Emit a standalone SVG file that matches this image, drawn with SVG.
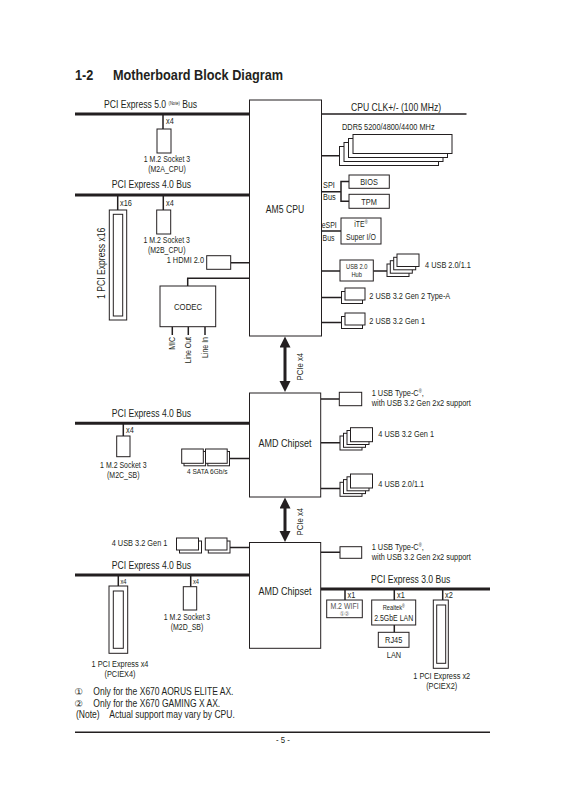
<svg xmlns="http://www.w3.org/2000/svg" width="565" height="800" viewBox="0 0 565 800">
<defs>
<style>
text{font-family:"Liberation Sans",Arial,"DejaVu Sans",sans-serif;fill:#231f20}
.title{font-weight:bold;font-size:15.5px}
.b{fill:#fff;stroke:#231f20;stroke-width:1}
.bus{stroke:#231f20;stroke-width:3;fill:none}
.c{stroke:#231f20;stroke-width:1.5;fill:none}
.ar{stroke:#231f20;stroke-width:3;fill:none}
.f11{font-size:11px}
.f105{font-size:10.5px}
.f104{font-size:10.4px}
.f95{font-size:9.5px}
.f9{font-size:9px}
.f85{font-size:8.5px}
.f8{font-size:8px}
.f7{font-size:7px}
.m{text-anchor:middle}
.e{text-anchor:end}
.g{fill:#555}
.cd{font-family:"DejaVu Sans",sans-serif;font-size:9.5px}
</style>
<marker id="ah" markerUnits="userSpaceOnUse" markerWidth="12" markerHeight="12" refX="6" refY="5.5" orient="auto-start-reverse">
<path d="M0,0 L11,5.5 L0,11 z" fill="#231f20"/>
</marker>
</defs>
<rect width="565" height="800" fill="#fff"/>

<g id="title">
<text transform="translate(75 80) scale(.82 1)" class="title">1-2</text>
<text transform="translate(113 80) scale(.82 1)" class="title">Motherboard Block Diagram</text>
</g>

<g id="connectors">
<line class="bus" x1="75" y1="114" x2="249.5" y2="114"/>
<line class="bus" x1="75" y1="195" x2="249.5" y2="195"/>
<line class="bus" x1="75" y1="423.3" x2="249.5" y2="423.3"/>
<line class="bus" x1="75" y1="575" x2="249.5" y2="575"/>
<line class="bus" x1="320.7" y1="589" x2="490" y2="589"/>
<path class="c" d="M163,114V129M117.7,195V210M163.3,195V210M230.7,262.7H249.5M187.7,286V278.3H249.5M172.3,326.7V335M188.3,326.7V335M205,326.7V335"/>
<path class="c" d="M321.5,114H466.5M321.5,155.7H339.5M321.5,191.7H341M349,181.5H341V201.3H349M321.5,231H341M321.5,271H340M373.3,271H387M321.5,297.5H341.5M321.5,322.5H341.5"/>
<path class="c" d="M123.3,423.3V436M229.5,458.5H249.5M320.7,399H339.3M320.7,442.7H340M320.7,488.5H340"/>
<path class="c" d="M230,547.5H249.5M118.3,575V586M190.7,575V586.7M320.7,552.3H340M345,589V600M394.3,589V600M394.3,625V632.3M442.7,589V600"/>
<line class="ar" x1="285" y1="341.5" x2="285" y2="387" marker-start="url(#ah)" marker-end="url(#ah)"/>
<line class="ar" x1="285" y1="502.5" x2="285" y2="537" marker-start="url(#ah)" marker-end="url(#ah)"/>
<text class="f95 m" transform="translate(302.7 366.7) rotate(-90) scale(.82 1)">PCIe x4</text>
<text class="f95 m" transform="translate(302.7 521.7) rotate(-90) scale(.82 1)">PCIe x4</text>
</g>

<g id="bus-labels">
<text transform="translate(104 108.3) scale(.82 1)" class="f105">PCI Express 5.0 <tspan font-size="5" dy="-3.5">(Note)</tspan><tspan dy="3.5"> Bus</tspan></text>
<text transform="translate(111.7 188.3) scale(.82 1)" class="f105">PCI Express 4.0 Bus</text>
<text transform="translate(111.7 416.7) scale(.82 1)" class="f105">PCI Express 4.0 Bus</text>
<text transform="translate(111.7 569.3) scale(.82 1)" class="f105">PCI Express 4.0 Bus</text>
<text transform="translate(371 583.3) scale(.82 1)" class="f105">PCI Express 3.0 Bus</text>
<text transform="translate(351 111) scale(.82 1)" class="f105">CPU CLK+/- (100 MHz)</text>
</g>

<g id="cpu">
<rect class="b" x="249.5" y="100" width="72" height="236"/>
<text transform="translate(285 213) scale(.82 1)" class="f105 m">AM5 CPU</text>
</g>

<g id="m2a">
<text transform="translate(166 124) scale(.82 1)" class="f9">x4</text>
<rect class="b" x="157" y="129" width="14" height="24"/>
<text transform="translate(167 162) scale(.82 1)" class="f85 m">1 M.2 Socket 3</text>
<text transform="translate(167 171.5) scale(.82 1)" class="f85 m">(M2A_CPU)</text>
</g>

<g id="pciex16">
<text transform="translate(120 206) scale(.82 1)" class="f9">x16</text>
<rect class="b" x="109.3" y="210" width="17.4" height="110"/>
<rect class="b" x="113.3" y="214.3" width="9.4" height="101.7"/>
<text class="f105 m" transform="translate(105.4 263.3) rotate(-90) scale(.82 1)">1 PCI Express x16</text>
</g>

<g id="m2b">
<text transform="translate(166 206) scale(.82 1)" class="f9">x4</text>
<rect class="b" x="156.7" y="210" width="14" height="24"/>
<text transform="translate(166.7 243.3) scale(.82 1)" class="f85 m">1 M.2 Socket 3</text>
<text transform="translate(166.7 252.5) scale(.82 1)" class="f85 m">(M2B_CPU)</text>
</g>

<g id="hdmi">
<text transform="translate(204 263.3) scale(.82 1)" class="f9 e">1 HDMI 2.0</text>
<rect class="b" x="206.7" y="255.7" width="24" height="13.6"/>
</g>

<g id="codec">
<rect class="b" x="160" y="286" width="55.7" height="40.7"/>
<text transform="translate(188 309.5) scale(.82 1)" class="f95 m">CODEC</text>
<text class="f85 e" transform="translate(175.3 337) rotate(-90) scale(.82 1)">MIC</text>
<text class="f85 e" transform="translate(191.3 337) rotate(-90) scale(.82 1)">Line Out</text>
<text class="f85 e" transform="translate(208 337) rotate(-90) scale(.82 1)">Line In</text>
</g>

<g id="ddr5">
<text transform="translate(342 130) scale(.82 1)" class="f9">DDR5 5200/4800/4400 MHz</text>
<rect class="b" x="339.5" y="146.5" width="99" height="19"/>
<rect class="b" x="344" y="142.5" width="99" height="19"/>
<rect class="b" x="348.5" y="138.5" width="99" height="19"/>
<rect class="b" x="353" y="134.5" width="99" height="19"/>
</g>

<g id="spi">
<text transform="translate(323 187.5) scale(.82 1)" class="f9">SPI</text>
<text transform="translate(323 200) scale(.82 1)" class="f9">Bus</text>
<rect class="b" x="349" y="175" width="40.3" height="13.3"/>
<text transform="translate(369 185.3) scale(.82 1)" class="f9 m">BIOS</text>
<rect class="b" x="349" y="194.3" width="40.3" height="14"/>
<text transform="translate(369 205) scale(.82 1)" class="f9 m">TPM</text>
</g>

<g id="superio">
<text transform="translate(321.7 227.7) scale(.82 1)" class="f85">eSPI</text>
<text transform="translate(322.5 240.7) scale(.82 1)" class="f85">Bus</text>
<rect class="b" x="341" y="218" width="40" height="26"/>
<text transform="translate(361 227) scale(.82 1)" class="f85 m">iTE<tspan font-size="5" dy="-3">®</tspan></text>
<text transform="translate(361 239.5) scale(.82 1)" class="f85 m">Super I/O</text>
</g>

<g id="usbhub">
<rect class="b" x="340" y="260" width="33.3" height="21"/>
<text transform="translate(356.7 268.5) scale(.82 1)" class="f7 m">USB 2.0</text>
<text transform="translate(356.7 277.3) scale(.82 1)" class="f7 m">Hub</text>
<rect class="b" x="387" y="264" width="22" height="12.5"/>
<rect class="b" x="390.3" y="260.7" width="22" height="12.5"/>
<rect class="b" x="393.7" y="257.3" width="22" height="12.5"/>
<rect class="b" x="397" y="254" width="22" height="12.5"/>
<text transform="translate(425 268.3) scale(.82 1)" class="f9">4 USB 2.0/1.1</text>
</g>

<g id="usb-gen2">
<rect class="b" x="341.5" y="291.5" width="21" height="12"/>
<rect class="b" x="345" y="288" width="20" height="12"/>
<text transform="translate(369.3 299.3) scale(.82 1)" class="f9">2 USB 3.2 Gen 2 Type-A</text>
</g>

<g id="usb-gen1">
<rect class="b" x="341.5" y="316.5" width="21" height="12"/>
<rect class="b" x="345" y="313" width="20" height="12"/>
<text transform="translate(369.3 324.3) scale(.82 1)" class="f9">2 USB 3.2 Gen 1</text>
</g>

<g id="chipset1">
<rect class="b" x="249.5" y="393" width="71.2" height="104"/>
<text transform="translate(285 446.7) scale(.82 1)" class="f11 m">AMD Chipset</text>
</g>

<g id="m2c">
<text transform="translate(126 433) scale(.82 1)" class="f9">x4</text>
<rect class="b" x="116.7" y="436" width="13.3" height="20.7"/>
<text transform="translate(123.3 468.3) scale(.82 1)" class="f85 m">1 M.2 Socket 3</text>
<text transform="translate(123.3 478) scale(.82 1)" class="f85 m">(M2C_SB)</text>
</g>

<g id="sata">
<rect class="b" x="184" y="451.5" width="21.6" height="14.3"/>
<rect class="b" x="181.7" y="449" width="21.6" height="14.3"/>
<rect class="b" x="207.8" y="451.5" width="21.7" height="14.3"/>
<rect class="b" x="205.5" y="449" width="21.7" height="14.3"/>
<text transform="translate(187 474) scale(.82 1)" class="f8">4 SATA 6Gb/s</text>
</g>

<g id="usbc1">
<rect class="b" x="339.3" y="392.3" width="22.4" height="13.4"/>
<text transform="translate(371.7 395.7) scale(.82 1)" class="f9">1 USB Type-C<tspan font-size="5" dy="-3">®</tspan><tspan dy="3">,</tspan></text>
<text transform="translate(371.7 405.7) scale(.82 1)" class="f9">with USB 3.2 Gen 2x2 support</text>
</g>

<g id="usb32-cs1">
<rect class="b" x="340" y="436" width="22" height="14"/>
<rect class="b" x="343.5" y="433.3" width="22" height="14"/>
<rect class="b" x="347" y="430.5" width="22" height="14"/>
<rect class="b" x="350.5" y="427.7" width="22" height="14"/>
<text transform="translate(378.3 437.3) scale(.82 1)" class="f9">4 USB 3.2 Gen 1</text>
</g>

<g id="usb20-cs1">
<rect class="b" x="340" y="482.3" width="22" height="14"/>
<rect class="b" x="343.5" y="479.6" width="22" height="14"/>
<rect class="b" x="347" y="476.8" width="22" height="14"/>
<rect class="b" x="350.5" y="474" width="22" height="14"/>
<text transform="translate(378.3 486.7) scale(.82 1)" class="f9">4 USB 2.0/1.1</text>
</g>

<g id="chipset2">
<rect class="b" x="249.5" y="542.5" width="71.2" height="105.8"/>
<text transform="translate(285 595) scale(.82 1)" class="f11 m">AMD Chipset</text>
</g>

<g id="usb32-left">
<text transform="translate(111.7 546) scale(.82 1)" class="f9">4 USB 3.2 Gen 1</text>
<rect class="b" x="179.5" y="541" width="22" height="12"/>
<rect class="b" x="176.5" y="538" width="22" height="12"/>
<rect class="b" x="208.3" y="541" width="21.7" height="12"/>
<rect class="b" x="205.3" y="538" width="21.7" height="12"/>
</g>

<g id="pciex4">
<text transform="translate(120.5 583.5) scale(.82 1)" class="f7">x4</text>
<rect class="b" x="109" y="586" width="18.7" height="67.3"/>
<rect class="b" x="113.3" y="591" width="10" height="57.3"/>
<text transform="translate(120 666.7) scale(.82 1)" class="f9 m">1 PCI Express x4</text>
<text transform="translate(120 676.7) scale(.82 1)" class="f9 m">(PCIEX4)</text>
</g>

<g id="m2d">
<text transform="translate(193 583.5) scale(.82 1)" class="f7">x4</text>
<rect class="b" x="183.3" y="586.7" width="13.4" height="23.3"/>
<text transform="translate(187 620) scale(.82 1)" class="f85 m">1 M.2 Socket 3</text>
<text transform="translate(187 630) scale(.82 1)" class="f85 m">(M2D_SB)</text>
</g>

<g id="usbc2">
<rect class="b" x="340" y="546.7" width="21.7" height="11.6"/>
<text transform="translate(371.7 549.5) scale(.82 1)" class="f9">1 USB Type-C<tspan font-size="5" dy="-3">®</tspan><tspan dy="3">,</tspan></text>
<text transform="translate(371.7 560) scale(.82 1)" class="f9">with USB 3.2 Gen 2x2 support</text>
</g>

<g id="wifi">
<text transform="translate(347.5 597.5) scale(.82 1)" class="f9">x1</text>
<rect class="b" x="326.7" y="600" width="35.6" height="17.7"/>
<text transform="translate(344.5 608.5) scale(.82 1)" class="f85 m g">M.2 WIFI</text>
<text transform="translate(344.5 616) scale(.82 1)" class="m g" font-family="DejaVu Sans, sans-serif" font-size="6.5">①②</text>
</g>

<g id="lan">
<text transform="translate(397 597.5) scale(.82 1)" class="f9">x1</text>
<rect class="b" x="371.7" y="600" width="44" height="25"/>
<text transform="translate(393.7 610) scale(.82 1)" class="f7 m">Realtek<tspan font-size="4.5" dy="-2.5">®</tspan></text>
<text transform="translate(393.7 620.7) scale(.82 1)" class="f85 m">2.5GbE LAN</text>
<rect class="b" x="378.3" y="632.3" width="30.7" height="15"/>
<text transform="translate(393.7 643) scale(.82 1)" class="f9 m">RJ45</text>
<text transform="translate(394 657.7) scale(.82 1)" class="f9 m">LAN</text>
</g>

<g id="pciex2">
<text transform="translate(445 597.5) scale(.82 1)" class="f9">x2</text>
<rect class="b" x="433.3" y="600" width="15" height="68.3"/>
<rect class="b" x="436.7" y="605" width="9" height="58.3"/>
<text transform="translate(441.7 679) scale(.82 1)" class="f9 m">1 PCI Express x2</text>
<text transform="translate(441.7 689) scale(.82 1)" class="f9 m">(PCIEX2)</text>
</g>

<g id="notes">
<text x="74.5" y="695" class="cd">①</text>
<text transform="translate(93.3 695) scale(.82 1)" class="f104">Only for the X670 AORUS ELITE AX.</text>
<text x="74.5" y="706.5" class="cd">②</text>
<text transform="translate(93.3 706.7) scale(.82 1)" class="f104">Only for the X670 GAMING X AX.</text>
<text transform="translate(76 717.8) scale(.82 1)" class="f104">(Note)</text>
<text transform="translate(109.3 717.8) scale(.82 1)" class="f104">Actual support may vary by CPU.</text>
<line x1="75" y1="732.3" x2="490" y2="732.3" stroke="#231f20" stroke-width="1.5"/>
<text transform="translate(283 743.3) scale(.82 1)" class="f95 m">- 5 -</text>
</g>
</svg>
